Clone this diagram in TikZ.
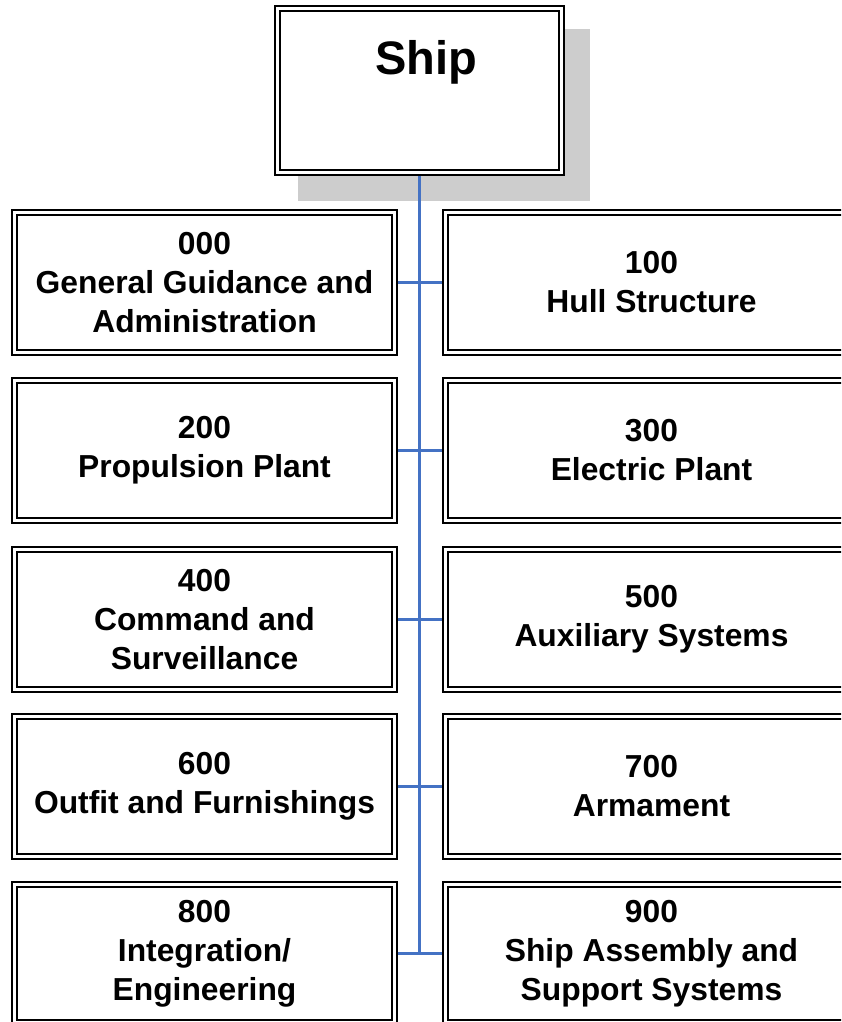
\documentclass[tikz,border=0pt]{standalone}
\usepackage{fontspec}
\setmainfont{Liberation Sans}
\usetikzlibrary{backgrounds}
\definecolor{linkblue}{HTML}{4472C4}
\definecolor{shadowgray}{HTML}{CDCDCD}
\tikzset{
  dblbox/.style={rectangle, draw=black, line width=1.3pt, fill=white,
    inner sep=0pt, align=center,
    font=\bfseries\fontsize{31.8}{39}\selectfont,
    path picture={\draw[line width=2.4pt]
      ([shift={(5pt,-5pt)}]path picture bounding box.north west) rectangle
      ([shift={(-5pt,5pt)}]path picture bounding box.south east);}},
  leftbox/.style={dblbox, minimum width=385pt, minimum height=145pt},
  rightbox/.style={dblbox, minimum width=417pt, minimum height=145pt},
  link/.style={draw=linkblue, line width=2.3pt},
}
\begin{document}
\begin{tikzpicture}[x=1pt, y=-1pt]
  \useasboundingbox (0,0) rectangle (841,1022);
  \clip (0,0) rectangle (841,1022);

  % top-level item
  \node[dblbox, minimum width=289pt, minimum height=169pt] (ship) at (419.5,90.5) {};
  \node[font=\bfseries\fontsize{47}{50}\selectfont, inner sep=0pt, anchor=base] (shiplabel) at (426.5,75) {Ship};
  \begin{scope}[on background layer]
    \fill[shadowgray] ([shift={(24pt,-24pt)}]ship.north west) rectangle ([shift={(25pt,-25pt)}]ship.south east);
  \end{scope}

  % groups, two per row
  \node[leftbox]  (g000) at (204.5,282.5) {000\\General Guidance and\\Administration};
  \node[rightbox] (g100) at (651.5,282.5) {100\\Hull Structure};
  \node[leftbox]  (g200) at (204.5,450.5) {200\\Propulsion Plant};
  \node[rightbox] (g300) at (651.5,450.5) {300\\Electric Plant};
  \node[leftbox]  (g400) at (204.5,619.5) {400\\Command and\\Surveillance};
  \node[rightbox] (g500) at (651.5,619.5) {500\\Auxiliary Systems};
  \node[leftbox]  (g600) at (204.5,786.5) {600\\Outfit and Furnishings};
  \node[rightbox] (g700) at (651.5,786.5) {700\\Armament};
  \node[leftbox, minimum height=143pt]  (g800) at (204.5,953.5) {800\\Integration/\\Engineering};
  \node[rightbox, minimum height=143pt] (g900) at (651.5,953.5) {900\\Ship Assembly and\\Support Systems};

  % connectors
  \coordinate (trunkend) at (ship.south |- g800.east);
  \draw[link] (ship.south) -- (trunkend);
  \draw[link] (g000.east) -- (g100.west);
  \draw[link] (g200.east) -- (g300.west);
  \draw[link] (g400.east) -- (g500.west);
  \draw[link] (g600.east) -- (g700.west);
  \draw[link] (g800.east) -- (g900.west);
\end{tikzpicture}
\end{document}
